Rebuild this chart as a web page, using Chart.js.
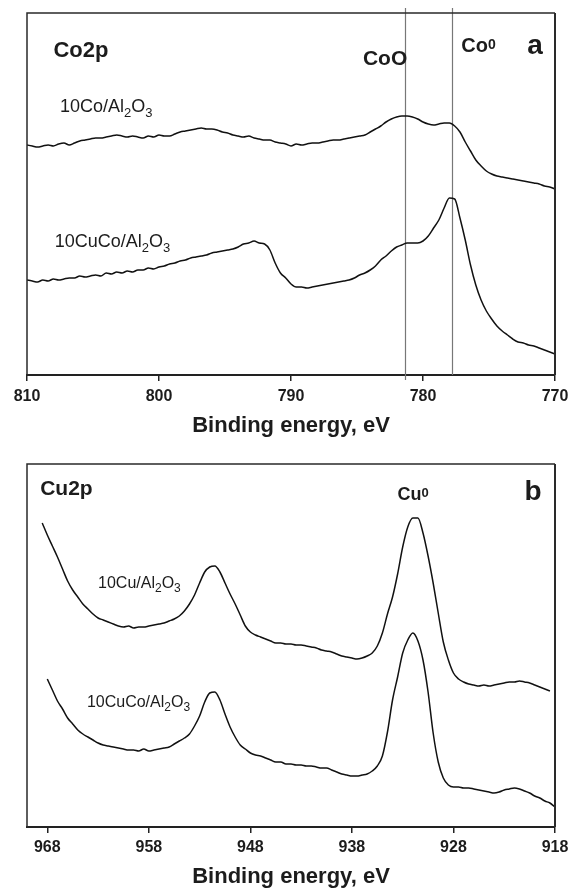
<!DOCTYPE html>
<html>
<head>
<meta charset="utf-8">
<title>Co2p / Cu2p XPS</title>
<script src="https://cdn.jsdelivr.net/npm/chart.js@4.4.1/dist/chart.umd.min.js"></script>
<style>
  html, body { margin: 0; padding: 0; background: #fff; }
  #wrap { position: relative; width: 570px; height: 892px; }
  canvas { position: absolute; left: 0; }
  #coChart { top: 0; }
  #cuChart { top: 446px; }
</style>
</head>
<body>
<div id="wrap">
  <canvas id="coChart" width="570" height="446"></canvas>
  <canvas id="cuChart" width="570" height="446"></canvas>
</div>
<script>
// ---- panel a: Co2p, binding energy grid 810 -> 770 eV, 0.4 eV step ----
const coStart = 810, coStep = 0.4;
const coTicks = [810, 800, 790, 780, 770];
const coRefLines = [781.4, 777.8];   // CoO, Co0 markers

const co_Co = [230, 229, 228, 229, 230, 229, 231, 232, 230, 232,
  234, 235, 236, 237, 237, 238, 239, 240, 239, 238,
  239, 238, 237, 239, 238, 240, 239, 239, 241, 243,
  244, 245, 246, 247, 246, 246, 245, 243, 242, 240,
  239, 238, 239, 237, 236, 235, 235, 233, 232, 231,
  229, 231, 230, 231, 232, 232, 233, 234, 235, 235,
  236, 237, 238, 239, 240, 243, 246, 249, 253, 256,
  258, 259, 259, 258, 256, 253, 251, 250, 251, 252,
  252, 249, 243, 233, 224, 215, 209, 204, 201, 199,
  198, 197, 196, 195, 194, 193, 192, 191, 189, 188, 186];

const co_CuCo = [95, 94, 93, 95, 94, 96, 95, 96, 97, 97,
  99, 98, 99, 100, 99, 102, 101, 103, 102, 104,
  103, 105, 105, 107, 106, 108, 109, 111, 112, 114,
  115, 117, 118, 119, 120, 122, 123, 124, 125, 126,
  128, 131, 132, 134, 132, 131, 125, 112, 102, 97,
  91, 88, 88, 87, 88, 89, 90, 91, 92, 93,
  94, 95, 97, 100, 102, 105, 109, 115, 119, 124,
  128, 130, 132, 132, 132, 134, 139, 147, 155, 167,
  177, 176, 157, 135, 110, 90, 75, 64, 56, 49,
  44, 40, 36, 33, 32, 30, 29, 27, 25, 23, 21];

// ---- panel b: Cu2p, binding energy grid 968.5 -> 918 eV, 0.5 eV step ----
const cuStart = 968.5, cuStep = 0.5;
const cuTicks = [968, 958, 948, 938, 928, 918];

const cu_Cu = [304, 292, 281, 270, 258, 246, 237, 230, 223, 218,
  213, 209, 207, 205, 203, 201, 200, 201, 199, 200,
  200, 201, 202, 203, 204, 206, 208, 211, 216, 223,
  232, 244, 255, 260, 261, 255, 244, 233, 223, 212,
  201, 195, 192, 190, 188, 186, 184, 184, 183, 183,
  182, 182, 181, 180, 179, 177, 176, 175, 173, 171,
  170, 169, 168, 169, 171, 174, 181, 194, 213, 230,
  253, 280, 300, 309, 309, 294, 271, 244, 214, 185,
  167, 154, 148, 145, 143, 142, 141, 142, 141, 142,
  143, 144, 145, 145, 146, 145, 144, 142, 140, 138,
  136, null];

const cu_CuCo = [null, 148, 137, 126, 118, 109, 103, 97, 93, 90,
  87, 84, 82, 81, 80, 79, 78, 77, 77, 76,
  78, 76, 77, 78, 79, 80, 83, 86, 89, 93,
  101, 111, 125, 134, 135, 127, 113, 100, 90, 82,
  78, 74, 72, 71, 69, 67, 65, 65, 63, 63,
  62, 62, 61, 61, 60, 59, 59, 57, 55, 53,
  52, 51, 51, 52, 53, 56, 61, 71, 95, 127,
  150, 174, 187, 194, 186, 167, 135, 94, 65, 49,
  42, 40, 40, 39, 39, 38, 37, 36, 35, 34,
  35, 37, 38, 39, 38, 36, 34, 31, 29, 26,
  24, 20];

const FONT = '"Liberation Sans", Arial, Helvetica, sans-serif';
const INK = '#1c1c1c';

// text labels anchored in data units (energy, intensity)
const coLabels = [
  { text: 'Co2p', x: 808.0, y: 318, size: 22, bold: true },
  { text: '10Co/Al_2O_3', x: 807.5, y: 263, size: 18 },
  { text: '10CuCo/Al_2O_3', x: 807.9, y: 128, size: 18 },
  { text: 'CoO', x: 784.55, y: 310, size: 21, bold: true },
  { text: 'Co^0', x: 777.1, y: 323, size: 20, bold: true },
  { text: 'a', x: 772.1, y: 321, size: 28, bold: true }
];
const cuLabels = [
  { text: 'Cu2p', x: 968.7, y: 332, size: 21, bold: true },
  { text: '10Cu/Al_2O_3', x: 963.0, y: 239, size: 16 },
  { text: '10CuCo/Al_2O_3', x: 964.1, y: 120, size: 16 },
  { text: 'Cu^0', x: 933.5, y: 327, size: 18, bold: true },
  { text: 'b', x: 921.0, y: 327, size: 28, bold: true }
];

function toPoints(start, step, values) {
  return values.map((v, i) => ({ x: +(start - step * i).toFixed(2), y: v }));
}

// draw text with _x subscripts and ^x superscripts
function drawRich(ctx, text, x, y, size, bold) {
  let cx = x;
  for (let i = 0; i < text.length; i++) {
    let ch = text[i];
    let s = size, dy = 0;
    if ((ch === '_' || ch === '^') && i + 1 < text.length) {
      s = Math.round(size * 0.72);
      dy = ch === '_' ? size * 0.28 : -size * 0.14;
      ch = text[++i];
    }
    ctx.font = (bold ? 'bold ' : '') + s + 'px ' + FONT;
    ctx.fillText(ch, cx, y + dy);
    cx += ctx.measureText(ch).width;
  }
}

const framePlugin = {
  id: 'frame',
  beforeDatasetsDraw(chart, args, opts) {
    const { ctx, chartArea: a, scales } = chart;
    ctx.save();
    // reference lines
    (opts.refLines || []).forEach((e, k) => {
      const px = Math.round(scales.x.getPixelForValue(e)) + 0.5;
      ctx.strokeStyle = '#777';
      ctx.lineWidth = 1.2;
      ctx.beginPath();
      ctx.moveTo(px, a.top - 5);
      ctx.lineTo(px, a.bottom + (k === 0 ? 5 : 0));
      ctx.stroke();
    });
    ctx.restore();
  },
  afterDatasetsDraw(chart, args, opts) {
    const { ctx, chartArea: a, scales } = chart;
    ctx.save();
    ctx.strokeStyle = '#2a2a2a';
    ctx.lineWidth = 1.5;
    ctx.beginPath();
    ctx.moveTo(a.left, a.bottom);
    ctx.lineTo(a.left, a.top);
    ctx.lineTo(a.right, a.top);
    ctx.stroke();
    ctx.lineWidth = 2;
    ctx.beginPath();
    ctx.moveTo(a.right, a.top);
    ctx.lineTo(a.right, a.bottom);
    ctx.stroke();
    ctx.fillStyle = INK;
    ctx.textBaseline = 'alphabetic';
    ctx.textAlign = 'left';
    (opts.labels || []).forEach(l => {
      drawRich(ctx, l.text, scales.x.getPixelForValue(l.x), scales.y.getPixelForValue(l.y), l.size, l.bold);
    });
    ctx.restore();
  }
};

function makeChart(id, cfg) {
  const ds = (data) => ({
    data,
    borderColor: '#111',
    borderWidth: 1.5,
    pointRadius: 0,
    fill: false,
    cubicInterpolationMode: 'monotone'
  });
  return new Chart(document.getElementById(id), {
    type: 'line',
    data: { datasets: cfg.series.map(ds) },
    plugins: [framePlugin],
    options: {
      responsive: false,
      animation: false,
      devicePixelRatio: 1,
      layout: { padding: cfg.padding },
      plugins: {
        legend: { display: false },
        tooltip: { enabled: false },
        frame: { refLines: cfg.refLines, labels: cfg.labels }
      },
      scales: {
        x: {
          type: 'linear',
          reverse: true,
          min: cfg.min,
          max: cfg.max,
          afterBuildTicks: s => { s.ticks = cfg.ticks.map(v => ({ value: v })); },
          afterFit: s => {
            s.height = cfg.axisHeight;
            // keep the plot frame where the layout padding puts it
            s.paddingLeft = 0;
            s.paddingRight = 0;
          },
          border: { display: true, color: '#222', width: 2 },
          grid: { drawOnChartArea: false, drawTicks: true, tickLength: 6, color: '#222', lineWidth: 1.5 },
          ticks: {
            color: INK,
            padding: cfg.tickPad,
            maxRotation: 0,
            font: { family: FONT, size: 16, weight: 'bold' }
          },
          title: {
            display: true,
            text: 'Binding energy, eV',
            color: INK,
            padding: { top: 0, bottom: cfg.titlePad },
            font: { family: FONT, size: 22, weight: 'bold' }
          }
        },
        y: { display: false, min: 0, max: cfg.ymax }
      }
    }
  });
}

makeChart('coChart', {
  series: [toPoints(coStart, coStep, co_Co), toPoints(coStart, coStep, co_CuCo)],
  min: 770, max: 810, ticks: coTicks, ymax: 362,
  padding: { left: 27, right: 15, top: 13, bottom: 0 },
  axisHeight: 71, tickPad: 6, titlePad: 6.5,
  refLines: coRefLines, labels: coLabels
});

makeChart('cuChart', {
  series: [toPoints(cuStart, cuStep, cu_Cu), toPoints(cuStart, cuStep, cu_CuCo)],
  min: 918, max: 970, ticks: cuTicks, ymax: 363,
  padding: { left: 27, right: 15, top: 18, bottom: 0 },
  axisHeight: 65, tickPad: 5, titlePad: 1.5,
  refLines: [], labels: cuLabels
});
</script>
</body>
</html>
